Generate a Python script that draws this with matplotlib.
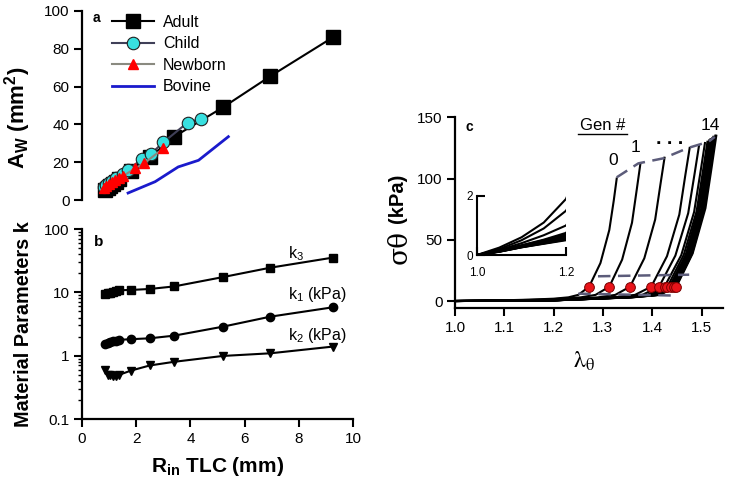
import matplotlib
matplotlib.use("Agg")
import matplotlib.pyplot as plt
from matplotlib.lines import Line2D
from matplotlib.ticker import FormatStrFormatter, LogLocator, NullFormatter

plt.rcParams['font.family'] = ['Liberation Sans', 'DejaVu Sans']
plt.rcParams['mathtext.fontset'] = 'custom'
plt.rcParams['mathtext.rm'] = 'Liberation Sans'
plt.rcParams['mathtext.it'] = 'Liberation Sans:italic'
plt.rcParams['mathtext.bf'] = 'Liberation Sans:bold'

# Panel a: airway wall area vs radius at TLC
adult_x = [0.85, 0.95, 1.05, 1.15, 1.25, 1.38, 1.8, 2.5, 3.4, 5.2, 6.95, 9.25]
adult_aw = [5.5, 6.5, 7.5, 8.5, 9.5, 11, 15.5, 22.5, 33.5, 49, 65.5, 86]
child_x = [0.8, 0.9, 1.0, 1.1, 1.25, 1.5, 1.7, 2.2, 2.55, 3.0, 3.9, 4.4]
child_aw = [7, 8, 9, 10, 11.5, 13.5, 16, 21.5, 24.5, 30.5, 41, 43]
newborn_x = [0.8, 0.9, 1.0, 1.1, 1.2, 1.35, 1.5, 1.95, 2.3, 3.0]
newborn_aw = [6.5, 7.5, 8.5, 9.5, 10.5, 11.5, 12.5, 16.7, 19.5, 27.3]
bovine_x = [1.7, 2.7, 3.55, 4.3, 5.4]
bovine_aw = [3.7, 9.7, 17.5, 21, 33.5]

# Panel b: material parameters (same radii as adult)
k3 = [9.5, 9.7, 9.9, 10.1, 10.4, 10.8, 10.9, 11.3, 12.4, 17.4, 24.5, 35.3]
k1 = [1.55, 1.6, 1.65, 1.68, 1.72, 1.78, 1.82, 1.88, 2.07, 2.87, 4.13, 5.8]
k2 = [0.6, 0.5, 0.49, 0.48, 0.48, 0.5, 0.58, 0.7, 0.8, 0.99, 1.09, 1.39]

# Panel c: stress-stretch curves, generations 0..14
curve_lam = [
    [1.0, 1.05, 1.1, 1.15, 1.2, 1.23, 1.25, 1.272, 1.295, 1.313, 1.322, 1.328],
    [1.0, 1.05, 1.1, 1.15, 1.2, 1.255, 1.285, 1.313, 1.339, 1.359, 1.369, 1.376],
    [1.0, 1.05, 1.1, 1.15, 1.2, 1.29, 1.325, 1.355, 1.384, 1.406, 1.417, 1.425],
    [1.0, 1.05, 1.1, 1.15, 1.2, 1.32, 1.365, 1.398, 1.430, 1.455, 1.467, 1.476],
    [1.0, 1.05, 1.1, 1.15, 1.2, 1.33, 1.38, 1.414, 1.447, 1.473, 1.486, 1.495],
    [1.0, 1.05, 1.1, 1.15, 1.2, 1.335, 1.39, 1.425, 1.459, 1.485, 1.498, 1.507],
    [1.0, 1.05, 1.1, 1.15, 1.2, 1.34, 1.395, 1.431, 1.464, 1.490, 1.503, 1.512],
    [1.0, 1.05, 1.1, 1.15, 1.2, 1.345, 1.40, 1.435, 1.468, 1.493, 1.506, 1.515],
    [1.0, 1.05, 1.1, 1.15, 1.2, 1.347, 1.403, 1.438, 1.471, 1.496, 1.509, 1.518],
    [1.0, 1.05, 1.1, 1.15, 1.2, 1.35, 1.406, 1.441, 1.473, 1.499, 1.511, 1.520],
    [1.0, 1.05, 1.1, 1.15, 1.2, 1.352, 1.409, 1.444, 1.476, 1.501, 1.513, 1.522],
    [1.0, 1.05, 1.1, 1.15, 1.2, 1.354, 1.411, 1.446, 1.478, 1.503, 1.515, 1.524],
    [1.0, 1.05, 1.1, 1.15, 1.2, 1.356, 1.413, 1.447, 1.479, 1.505, 1.517, 1.526],
    [1.0, 1.05, 1.1, 1.15, 1.2, 1.358, 1.414, 1.448, 1.481, 1.506, 1.519, 1.528],
    [1.0, 1.05, 1.1, 1.15, 1.2, 1.36, 1.415, 1.449, 1.482, 1.508, 1.521, 1.530],
]
curve_sig = [
    [0, 0.25, 0.6, 1.1, 1.9, 3, 5, 11.7, 31, 58, 82, 100],
    [0, 0.2, 0.5, 0.9, 1.5, 3, 5, 11.7, 33.8, 63.9, 92, 112],
    [0, 0.17, 0.4, 0.67, 1.0, 3, 5, 11.7, 34.9, 66.5, 96, 117],
    [0, 0.15, 0.33, 0.52, 0.75, 3, 5, 11.7, 36.6, 70.6, 102.3, 125],
    [0, 0.14, 0.32, 0.5, 0.7, 3, 5, 11.7, 37.1, 71.7, 104, 127],
    [0, 0.14, 0.31, 0.48, 0.66, 3, 5, 11.7, 37.5, 72.7, 105.5, 129],
    [0, 0.13, 0.3, 0.46, 0.63, 3, 5, 11.7, 37.7, 73.2, 106.3, 130],
    [0, 0.13, 0.29, 0.45, 0.61, 3, 5, 11.7, 37.9, 73.7, 107, 131],
    [0, 0.13, 0.29, 0.44, 0.59, 3, 5, 11.7, 38.2, 74.3, 108, 132],
    [0, 0.12, 0.28, 0.43, 0.57, 3, 5, 11.7, 38.2, 74.3, 108, 132],
    [0, 0.12, 0.28, 0.42, 0.56, 3, 5, 11.7, 38.4, 74.8, 108.7, 133],
    [0, 0.12, 0.27, 0.41, 0.54, 3, 5, 11.7, 38.6, 75.3, 109.5, 134],
    [0, 0.12, 0.27, 0.40, 0.53, 3, 5, 11.7, 38.6, 75.3, 109.5, 134],
    [0, 0.11, 0.26, 0.39, 0.52, 3, 5, 11.7, 38.8, 75.8, 110.3, 135],
    [0, 0.11, 0.26, 0.38, 0.50, 3, 5, 11.7, 38.8, 75.8, 110.3, 135],
]
dot_lam = [1.272, 1.313, 1.355, 1.398, 1.414, 1.425, 1.431, 1.438, 1.444, 1.448]
dot_sig = [11.7] * 10
top_lam = [1.328, 1.372, 1.4225, 1.473, 1.514, 1.527]
top_sig = [101, 112.4, 116.5, 125, 130, 134]
mid_lam = [1.29, 1.475]
mid_sig = [20.2, 21.5]
low_lam = [1.25, 1.44]
low_sig = [6, 4.5]

DASH = '#5c5c7a'

fig = plt.figure(figsize=(7.3, 4.86), dpi=100)
axa = fig.add_axes([82/730, 1-200/486, 271/730, 189/486])
axb = fig.add_axes([82/730, 1-419/486, 271/730, 190/486])
axc = fig.add_axes([455/730, 1-308/486, 268/730, 190.7/486])
axi = fig.add_axes([477/730, 1-255/486, 89/730, 59/486])

def style(ax):
    for s in ['top', 'right']:
        ax.spines[s].set_visible(False)
    for s in ['left', 'bottom']:
        ax.spines[s].set_linewidth(1.6)
    ax.tick_params(direction='out', length=6, width=1.5, labelsize=11, pad=3)

# ---- a
style(axa)
axa.spines['bottom'].set_visible(False)
axa.tick_params(bottom=False, labelbottom=False)
axa.plot(adult_x, adult_aw, 'k-', lw=1.5, marker='s', ms=10, mfc='k', mec='k',
         label='Adult', clip_on=False)
axa.plot(child_x, child_aw, '-', color='#404058', lw=1.5, marker='o', ms=9,
         mfc='#38e0e0', mec='#202020', mew=0.8, label='Child', clip_on=False)
axa.plot(newborn_x, newborn_aw, '-', color='#8a8a80', lw=1.5, marker='^', ms=7,
         mfc='#ff0000', mec='#ff0000', label='Newborn', clip_on=False)
axa.plot(bovine_x, bovine_aw, '-', color='#1a1acc', lw=2, label='Bovine')
axa.set_xlim(0, 10)
axa.set_ylim(0, 100)
axa.set_yticks([0, 20, 40, 60, 80, 100])
axa.set_ylabel(r"A$_\mathbf{W}$ (mm$^\mathbf{2}$)", fontsize=16, fontweight='bold')
axa.yaxis.set_label_coords(-0.181, 0.434)
axa.text(0.55, 96.3, 'a', fontsize=10, fontweight='bold', ha='center', va='center')
axa.legend(loc='upper left', bbox_to_anchor=(112/730, 1-15/486),
           bbox_transform=fig.transFigure, frameon=False, fontsize=11.5,
           handlelength=2.6, handletextpad=0.6, labelspacing=0.4,
           borderpad=0, borderaxespad=0)

# ---- b
style(axb)
axb.set_yscale('log')
axb.plot(adult_x, k3, 'k-', lw=1.5, marker='s', ms=5.5, clip_on=False)
axb.plot(adult_x, k1, 'k-', lw=1.5, marker='o', ms=6, clip_on=False)
axb.plot(adult_x, k2, 'k-', lw=1.5, marker='v', ms=6, clip_on=False)
axb.set_xlim(0, 10)
axb.set_ylim(0.1, 100)
axb.set_xticks([0, 2, 4, 6, 8, 10])
axb.yaxis.set_major_locator(LogLocator(base=10))
axb.yaxis.set_major_formatter(FormatStrFormatter('%g'))
axb.yaxis.set_minor_formatter(NullFormatter())
axb.tick_params(which='minor', direction='out', length=3, width=1)
axb.set_ylabel('Material Parameters k', fontsize=14.3, fontweight='bold')
axb.yaxis.set_label_coords(-0.181, 0.5)
axb.set_xlabel(r"R$_\mathbf{in}$ TLC (mm)", fontsize=15, fontweight='bold')
axb.xaxis.set_label_coords(0.5, -0.19)
axb.text(0.6, 62.5, 'b', fontsize=11, fontweight='bold', ha='center', va='center')
axb.text(7.6, 40.5, r"k$_3$", fontsize=11.5, va='center')
axb.text(7.6, 9.1, r"k$_1$ (kPa)", fontsize=11.5, va='center')
axb.text(7.6, 2.05, r"k$_2$ (kPa)", fontsize=11.5, va='center')

# ---- c
style(axc)
for lam, sig in zip(curve_lam, curve_sig):
    axc.plot(lam, sig, 'k-', lw=1.5)
    axi.plot(lam, sig, 'k-', lw=1.5)
axc.plot(top_lam, top_sig, '--', color=DASH, lw=1.8, dashes=(5, 3))
axc.plot(mid_lam, mid_sig, '--', color=DASH, lw=1.8, dashes=(5, 3))
axc.plot(low_lam, low_sig, '--', color=DASH, lw=1.8, dashes=(5, 3))
axc.plot(dot_lam, dot_sig, 'o', ms=7, mfc='#e8141a', mec='#7a0000', mew=0.7, zorder=5)
axc.set_xlim(1.0, 1.5436)
axc.set_ylim(-5.7, 150)
axc.set_xticks([1.0, 1.1, 1.2, 1.3, 1.4, 1.5])
axc.xaxis.set_major_formatter(FormatStrFormatter('%.1f'))
axc.set_yticks([0, 50, 100, 150])
fig.text(398/730, 1-198/486, '(kPa)', rotation=90, fontsize=14.5, fontweight='bold',
         ha='center', va='center')
fig.text(399/730, 1-247/486, 'σθ', rotation=90, fontsize=19, family='DejaVu Serif',
         ha='center', va='center')
axc.set_xlabel(r"$\mathrm{\lambda_\theta}$", fontsize=17, math_fontfamily='stix')
axc.xaxis.set_label_coords(0.48, -0.22)
axc.text(1.03, 142, 'c', fontsize=10, fontweight='bold', ha='center', va='center')
axc.text(1.30, 143.7, 'Gen #', fontsize=12, ha='center', va='center')
axc.add_line(Line2D([1.249, 1.349], [136.5, 136.5], color='k', lw=1))
axc.text(1.320, 115, '0', fontsize=12.5, ha='center', va='center')
axc.text(1.367, 125.7, '1', fontsize=12.5, ha='center', va='center')
axc.text(1.436, 128, '. . .', fontsize=14, fontweight='bold', ha='center', va='baseline')
axc.text(1.517, 143, '14', fontsize=12.5, ha='center', va='center')

# inset
axi.patch.set_alpha(0)
for s in ['top', 'right']:
    axi.spines[s].set_visible(False)
for s in ['left', 'bottom']:
    axi.spines[s].set_linewidth(1.5)
axi.set_xlim(1.0, 1.2)
axi.set_ylim(0, 2)
axi.set_xticks([1.0, 1.2])
axi.xaxis.set_major_formatter(FormatStrFormatter('%.1f'))
axi.set_yticks([0, 2])
axi.tick_params(direction='in', length=6, width=1.5, labelsize=8.5, pad=3)
axi.tick_params(axis='x', pad=9)

fig.savefig('out.png', dpi=100)
